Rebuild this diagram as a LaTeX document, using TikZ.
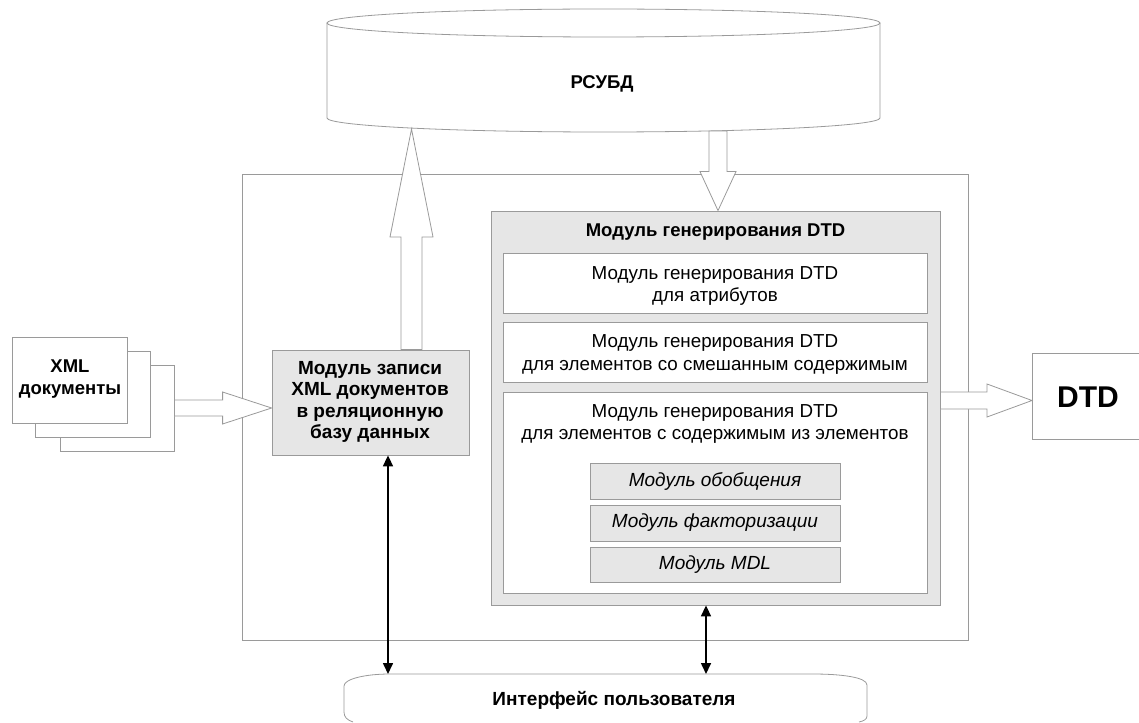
\documentclass[tikz,border=0pt]{standalone}
\usepackage{fontspec}
\setmainfont{Liberation Sans}
\usetikzlibrary{calc,arrows.meta}
\definecolor{ln}{HTML}{9A9A9A}
\definecolor{gf}{HTML}{E6E6E6}
\begin{document}
\begin{tikzpicture}[x=1pt,y=-1pt,
  font=\fontsize{18.8}{22.5}\selectfont,
  box/.style={draw=ln, line width=0.8pt, fill=white, inner sep=0pt, align=center},
  gbox/.style={box, fill=gf},
  it/.style={font=\fontsize{19}{22}\selectfont\itshape},
  blk/.style={draw=ln, line width=0.8pt, fill=white, line join=miter},
  dbl/.style={line width=1.6pt, {Triangle[length=11pt,width=10pt]}-{Triangle[length=11pt,width=10pt]}},
  bt/.style={font=\fontsize{18.5}{21.5}\selectfont\bfseries, align=center, inner sep=0pt}]
\useasboundingbox (0,0) rectangle (1139,722);

% database cylinder
\filldraw[draw=ln, line width=0.8pt, fill=white]
  (327,23) -- (327,118) arc[start angle=180, end angle=360, x radius=276.5pt, y radius=14pt] -- (880,23);
\draw[draw=ln, line width=0.8pt, fill=white] (603.5,23) ellipse [x radius=276.5pt, y radius=14pt];
\node[bt] (db) at (602,84) {РСУБД};
\coordinate (dbtip) at (411.5,129);
\coordinate (dbdn) at (718,131);

% outer frame
\node[box, fill=none, minimum width=726, minimum height=466] (frame) at (605,407) {};

% DTD generation module
\node[gbox, minimum width=449, minimum height=394] (gen) at (715.5,408) {};
\node[bt] (gent) at (715.5,232) {Модуль генерирования DTD};
\node[box, minimum width=424, minimum height=60] (b1) at (715,283) {};
\node[inner sep=0pt, align=center] (b1t) at (715,286) {Модуль генерирования DTD\\для атрибутов};
\node[box, minimum width=424, minimum height=60] (b2) at (715,352) {};
\node[inner sep=0pt, align=center] (b2t) at (715,354.5) {Модуль генерирования DTD\\для элементов со смешанным содержимым};
\node[box, minimum width=424, minimum height=201] (b3) at (715,492.5) {};
\node[inner sep=0pt, align=center] (b3t) at (715,424) {Модуль генерирования DTD\\для элементов с содержимым из элементов};
\node[gbox, minimum width=250, minimum height=36, it] (sa) at (715,481) {Модуль обобщения};
\node[gbox, minimum width=250, minimum height=36, it] (sb) at (715,523) {Модуль факторизации};
\node[gbox, minimum width=250, minimum height=35, it] (sc) at (715,564.5) {Модуль MDL};

% write module
\node[gbox, minimum width=197, minimum height=105] (wr) at (370.5,402.5) {};
\node[bt, font=\fontsize{19}{21.5}\selectfont\bfseries] (wrt) at (370,402) {Модуль записи\\XML документов\\в реляционную\\базу данных};

% XML documents stack
\node[box, minimum width=114, minimum height=86] (xml3) at (117,408) {};
\node[box, minimum width=115, minimum height=86] (xml2) at (92.5,394) {};
\node[box, minimum width=115, minimum height=86] (xml1) at (69.5,380) {};
\node[bt] (xmlt) at (70,379) {XML\\документы};

% DTD box (cut at the right border)
\coordinate (dtdnw) at (1032,353);
\coordinate (dtdsw) at (1032,439);
\node[inner sep=0pt, font=\fontsize{30}{32}\selectfont\bfseries] (dtd) at (1088,397) {DTD};
\coordinate (dtdw) at (1032,400.5);
\draw[draw=ln, line width=0.8pt] (1139,353) -- (dtdnw) -- (dtdsw) -- (1139,439);

% user interface
\node[bt, font=\fontsize{19}{21}\selectfont\bfseries] (ui) at (614,700) {Интерфейс пользователя};
\coordinate (uitop) at (603,674);
\draw[draw=ln, line width=0.8pt]
  (353,722) .. controls (347,720) and (344,717) .. (344,712) -- (344,686)
  .. controls (344,679) and (365,674) .. (390,674) -- (813,674)
  .. controls (840,674) and (867,677) .. (867,685) -- (867,716)
  .. controls (867,719) and (864,721) .. (859,722);

% block arrows
\draw[blk] let \p1=(wr.north), \p2=(dbtip) in
  (\x2-10.5pt,\y1) -- (\x2-10.5pt,\y2-108pt) -- (\x2-21.5pt,\y2-108pt) -- (\x2,\y2)
  -- (\x2+21.5pt,\y2-108pt) -- (\x2+10.5pt,\y2-108pt) -- (\x2+10.5pt,\y1) -- cycle;
\draw[blk] let \p1=(dbdn), \p2=(gen.north -| dbdn) in
  (\x1-9pt,\y1) -- (\x1-9pt,\y2+39pt) -- (\x1-18pt,\y2+39pt) -- (\x1,\y2)
  -- (\x1+18pt,\y2+39pt) -- (\x1+9pt,\y2+39pt) -- (\x1+9pt,\y1) -- cycle;
\draw[blk] let \p1=(xml3.east), \p2=(wr.west |- xml3.east) in
  (\x1,\y1+8pt) -- (\x2-49pt,\y1+8pt) -- (\x2-49pt,\y1+16pt) -- (\x2,\y1)
  -- (\x2-49pt,\y1-16pt) -- (\x2-49pt,\y1-8pt) -- (\x1,\y1-8pt) -- cycle;
\draw[blk] let \p1=(gen.east |- dtdw), \p2=(dtdw) in
  (\x1,\y1+8.5pt) -- (\x2-45pt,\y1+8.5pt) -- (\x2-45pt,\y1+16.5pt) -- (\x2,\y1)
  -- (\x2-45pt,\y1-16.5pt) -- (\x2-45pt,\y1-8.5pt) -- (\x1,\y1-8.5pt) -- cycle;

% double arrows
\coordinate (la) at (388,0);
\coordinate (ra) at (706,0);
\draw[dbl] (wr.south -| la) -- (uitop -| la);
\draw[dbl] (gen.south -| ra) -- (uitop -| ra);
\end{tikzpicture}
\end{document}
